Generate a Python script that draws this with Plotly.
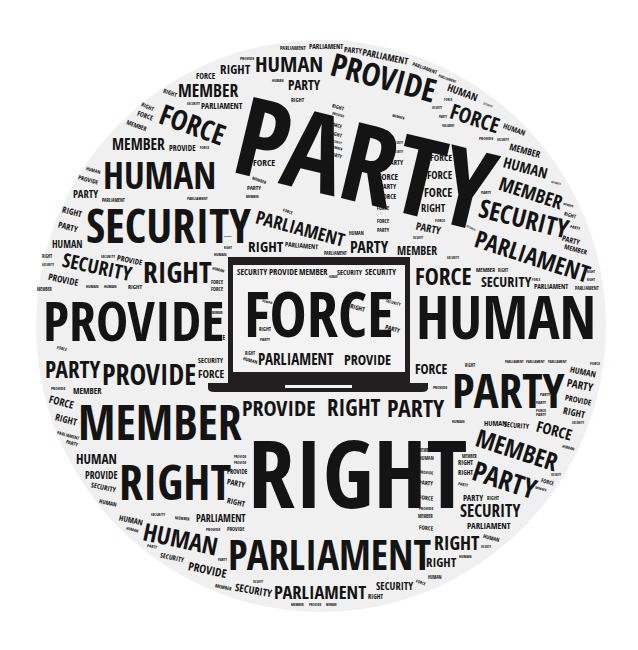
import plotly.graph_objects as go

# word-cloud terms
TERMS = ["PARTY", "RIGHT", "FORCE", "HUMAN", "PROVIDE", "SECURITY", "PARLIAMENT", "MEMBER"]

# placement: term, centre x, centre y (px), text length (px), tilt (deg)
PLACES = [
    # top rim
    ("PARLIAMENT", 293, 48, 25, 0), ("PARLIAMENT", 326, 47, 33, 0), ("PARTY", 353, 50, 18, 5),
    ("PARLIAMENT", 385, 57, 45, 12), ("PARLIAMENT", 425, 68, 25, 20), ("PARLIAMENT", 447, 79, 18, 20),
    ("PROVIDE", 247, 58, 14, 0), ("HUMAN", 289, 64, 65, 0), ("RIGHT", 235, 70, 30, 0),
    ("FORCE", 206, 76, 19, 0), ("HUMAN", 278, 81, 11, 0), ("PARTY", 304, 86, 32, 0),
    ("RIGHT", 298, 100, 13, 0), ("RIGHT", 170, 93, 14, 20), ("MEMBER", 208, 91, 57, 0),
    ("SECURITY", 193, 104, 13, 0), ("PARLIAMENT", 222, 106, 40, 0), ("RIGHT", 148, 107, 13, 25),
    ("FORCE", 145, 116, 16, 20), ("MEMBER", 137, 126, 20, 20), ("FORCE", 193, 125, 67, 20),
    ("MEMBER", 138, 145, 50, 0), ("PROVIDE", 182, 148, 26, 0), ("FORCE", 204, 148, 9, 0),
    ("HUMAN", 159, 176, 108, 0), ("HUMAN", 93, 170, 14, 15), ("PROVIDE", 88, 180, 20, 15),
    ("PARTY", 85, 194, 25, 0), ("PARLIAMENT", 113, 200, 22, 0), ("PARLIAMENT", 197, 199, 20, 0),
    ("SECURITY", 168, 227, 164, 0), ("RIGHT", 72, 212, 20, 15), ("PARTY", 68, 227, 20, 15),
    ("HUMAN", 67, 244, 29, 0), ("SECURITY", 97, 267, 70, 12), ("SECURITY", 108, 257, 14, 0),
    ("PROVIDE", 130, 260, 25, 12), ("RIGHT", 177, 273, 68, 0), ("HUMAN", 220, 255, 12, 0),
    ("HUMAN", 218, 270, 12, 15), ("FORCE", 217, 282, 12, 0), ("FORCE", 217, 289, 12, 0),
    ("RIGHT", 47, 256, 10, 0), ("SECURITY", 48, 265, 12, 0), ("PROVIDE", 63, 280, 30, 12),
    ("HUMAN", 92, 287, 12, 0), ("HUMAN", 110, 287, 12, 0), ("RIGHT", 135, 287, 14, 0),
    ("MEMBER", 45, 289, 14, 0),
    # left middle
    ("PROVIDE", 133, 322, 177, 0), ("FORCE", 62, 348, 10, 15), ("FORCE", 217, 338, 15, 0),
    ("MEMBER", 217, 313, 10, 0), ("PARTY", 72, 370, 55, 0), ("PROVIDE", 149, 375, 92, 0),
    ("SECURITY", 211, 360, 25, 0), ("FORCE", 211, 374, 26, 0), ("PROVIDE", 58, 388, 14, 0),
    ("MEMBER", 87, 391, 27, 0), ("FORCE", 62, 402, 25, 15), ("MEMBER", 160, 423, 155, 0),
    ("RIGHT", 66, 420, 22, 15), ("PARLIAMENT", 68, 435, 22, 15), ("PARTY", 72, 443, 12, 15),
    ("HUMAN", 96, 460, 39, 0), ("PROVIDE", 101, 476, 32, 0), ("SECURITY", 104, 487, 25, 12),
    ("HUMAN", 108, 503, 17, 12), ("RIGHT", 175, 483, 111, 0), ("PROVIDE", 240, 457, 12, 0),
    ("PROVIDE", 240, 463, 12, 0), ("PROVIDE", 237, 472, 20, 0), ("PARTY", 236, 483, 18, 12),
    ("RIGHT", 236, 502, 18, 12), ("PROVIDE", 279, 408, 72, 0), ("RIGHT", 357, 475, 217, 0),
    # bottom
    ("HUMAN", 131, 520, 23, 12), ("HUMAN", 132, 530, 12, 15), ("SECURITY", 158, 515, 14, 0),
    ("MEMBER", 183, 518, 14, 5), ("PARLIAMENT", 221, 518, 48, 0), ("PROVIDE", 213, 529, 14, 0),
    ("PROVIDE", 235, 529, 17, 0), ("HUMAN", 181, 539, 72, 12), ("PARTY", 152, 547, 10, 12),
    ("SECURITY", 172, 558, 24, 12), ("PROVIDE", 207, 570, 38, 12), ("PARTY", 222, 560, 9, 0),
    ("PARLIAMENT", 330, 556, 196, 0), ("MEMBER", 223, 587, 16, 12), ("SECURITY", 253, 590, 37, 10),
    ("SECURITY", 258, 582, 10, 0), ("PARLIAMENT", 320, 592, 89, 0), ("MEMBER", 297, 605, 12, 0),
    ("PROVIDE", 315, 605, 12, 0), ("MEMBER", 331, 605, 10, 0), ("SECURITY", 394, 586, 37, 0),
    ("RIGHT", 375, 597, 15, 0), ("FORCE", 421, 582, 10, 20), ("RIGHT", 441, 563, 30, 0),
    ("HUMAN", 435, 577, 13, 0), ("RIGHT", 457, 543, 45, 0), ("HUMAN", 491, 538, 16, 15),
    ("SECURITY", 486, 547, 10, 0), ("HUMAN", 465, 557, 12, 0), ("PARLIAMENT", 489, 526, 42, 0),
    ("SECURITY", 490, 511, 60, 0), ("PARTY", 473, 498, 20, 0), ("RIGHT", 493, 498, 12, 0),
    # right lower
    ("MEMBER", 426, 450, 14, 0), ("HUMAN", 426, 458, 14, 0), ("PROVIDE", 426, 472, 14, 5),
    ("PARTY", 426, 483, 14, 5), ("FORCE", 426, 498, 14, 5), ("PROVIDE", 426, 508, 14, 0),
    ("MEMBER", 426, 516, 14, 0), ("FORCE", 426, 528, 14, 5), ("PARTY", 458, 447, 14, 0),
    ("MEMBER", 470, 456, 14, 0), ("RIGHT", 465, 463, 15, 0), ("RIGHT", 465, 473, 15, 0),
    ("PARTY", 463, 485, 10, 12), ("MEMBER", 517, 450, 80, 18), ("PARTY", 505, 481, 65, 18),
    ("SECURITY", 556, 475, 10, 0), ("FORCE", 548, 482, 13, 15), ("MEMBER", 541, 489, 11, 15),
    ("HUMAN", 495, 423, 22, 0), ("SECURITY", 517, 425, 25, 5), ("FORCE", 554, 431, 36, 15),
    ("HUMAN", 568, 448, 12, 15), ("HUMAN", 458, 422, 12, 0), ("FORCE", 431, 370, 32, 0),
    ("PROVIDE", 440, 387, 14, 0), ("RIGHT", 354, 408, 53, 0), ("PARTY", 416, 408, 57, 0),
    ("PARTY", 509, 392, 112, 0), ("PARLIAMENT", 514, 362, 18, 0), ("PARLIAMENT", 535, 362, 18, 0),
    ("PARLIAMENT", 557, 362, 18, 0), ("RIGHT", 470, 365, 10, 0), ("FORCE", 595, 363, 10, 0),
    ("HUMAN", 583, 372, 25, 12), ("PARTY", 580, 385, 26, 12), ("PROVIDE", 578, 400, 26, 12),
    ("RIGHT", 574, 413, 22, 12), ("SECURITY", 578, 423, 12, 0), ("PARTY", 545, 395, 10, 0),
    ("PARTY", 541, 403, 10, 0), ("FORCE", 541, 410, 10, 0), ("PARTY", 541, 415, 10, 0),
    # right middle
    ("HUMAN", 506, 318, 172, 0), ("FORCE", 443, 277, 56, 0), ("SECURITY", 453, 258, 12, 0),
    ("MEMBER", 485, 270, 18, 0), ("RIGHT", 503, 270, 10, 0), ("SECURITY", 506, 282, 50, 0),
    ("FORCE", 536, 280, 8, 0), ("PARLIAMENT", 551, 287, 33, 0), ("PARLIAMENT", 587, 288, 23, 0),
    ("RIGHT", 591, 272, 8, 0), ("RIGHT", 591, 280, 8, 0), ("SECURITY", 471, 228, 10, 30),
    ("PARLIAMENT", 532, 257, 115, 18), ("SECURITY", 524, 220, 91, 14), ("MEMBER", 531, 194, 62, 18),
    ("HUMAN", 525, 168, 43, 15), ("MEMBER", 525, 151, 30, 15), ("HUMAN", 514, 129, 22, 20),
    ("PROVIDE", 486, 138, 14, 0), ("SECURITY", 503, 140, 12, 0), ("SECURITY", 556, 183, 10, 15),
    ("MEMBER", 568, 205, 10, 15), ("RIGHT", 570, 215, 12, 15), ("PARTY", 575, 228, 10, 15),
    ("PARTY", 571, 240, 18, 15), ("MEMBER", 576, 250, 22, 15), ("PARTY", 486, 193, 10, 0),
    # top right
    ("PROVIDE", 383, 78, 105, 15), ("HUMAN", 462, 92, 30, 20), ("SECURITY", 488, 105, 10, 20),
    ("RIGHT", 338, 107, 12, 15), ("PROVIDE", 338, 115, 12, 15), ("FORCE", 336, 125, 12, 15),
    ("RIGHT", 336, 134, 12, 15), ("SECURITY", 336, 142, 12, 15), ("MEMBER", 336, 148, 12, 15),
    ("PARTY", 336, 155, 12, 15), ("MEMBER", 398, 117, 12, 15), ("SECURITY", 437, 108, 10, 0),
    ("FORCE", 448, 100, 8, 0), ("PARTY", 443, 117, 8, 0), ("PARLIAMENT", 448, 126, 12, 0),
    ("FORCE", 475, 118, 50, 18), ("FORCE", 441, 158, 22, 0), ("FORCE", 440, 175, 25, 0),
    ("FORCE", 438, 192, 28, 0), ("RIGHT", 433, 208, 24, 0), ("PARTY", 428, 228, 25, 12),
    ("SECURITY", 418, 238, 10, 0), ("FORCE", 440, 220, 10, 0), ("PARTY", 395, 163, 16, 0),
    ("FORCE", 388, 177, 20, 0), ("PARTY", 388, 187, 16, 0), ("FORCE", 388, 197, 16, 0),
    ("FORCE", 383, 208, 12, 0), ("FORCE", 383, 221, 12, 0), ("PARTY", 383, 230, 12, 0),
    ("SECURITY", 398, 143, 10, 0), ("SECURITY", 398, 152, 10, 0), ("HUMAN", 356, 233, 14, 0),
    ("PARTY", 369, 248, 38, 0), ("MEMBER", 417, 250, 38, 0), ("PARLIAMENT", 335, 253, 22, 0),
    ("PARLIAMENT", 300, 228, 88, 15), ("FORCE", 288, 211, 10, 20), ("RIGHT", 266, 247, 35, 0),
    ("PARLIAMENT", 301, 246, 32, 5), ("FORCE", 264, 163, 22, 0), ("MEMBER", 260, 180, 14, 20),
    ("PARTY", 254, 188, 14, 0), ("MEMBER", 252, 197, 12, 0), ("SECURITY", 228, 237, 8, 0),
    ("RIGHT", 228, 248, 8, 0),
    ("PARTY", 366, 165, 260, 13.5),
    # laptop screen
    ("SECURITY", 252, 272, 30, 0), ("PROVIDE", 283, 272, 28, 0), ("MEMBER", 313, 272, 27, 0),
    ("HUMAN", 333, 277, 8, 0), ("SECURITY", 350, 272, 25, 0), ("SECURITY", 381, 272, 31, 0),
    ("FORCE", 319, 315, 148, 0), ("HUMAN", 267, 302, 10, 15), ("RIGHT", 265, 329, 12, 0),
    ("PARTY", 265, 340, 10, 0), ("RIGHT", 250, 353, 10, 0), ("HUMAN", 250, 360, 14, 15),
    ("RIGHT", 357, 308, 15, 15), ("SECURITY", 393, 302, 15, 15), ("PARTY", 392, 329, 15, 15),
    ("PARLIAMENT", 296, 360, 73, 0), ("PROVIDE", 367, 360, 46, 0),
]

# rough advance widths (em) of bold caps, scaled to the condensed face
ADV = {"A": .686, "B": .693, "C": .640, "D": .742, "E": .569, "F": .547, "G": .738,
       "H": .781, "I": .370, "L": .573, "M": .961, "N": .811, "O": .794, "P": .661,
       "R": .691, "S": .585, "T": .597, "U": .775, "V": .650, "Y": .624}
NARROW = 0.73
FONT = "Open Sans Condensed, Roboto Condensed, DejaVu Sans Condensed, sans-serif"
INK = "#141414"

W, H = 638, 650
PAD = 8  # page body margin in the viewer

fig = go.Figure()

# grey disc behind the words
fig.add_shape(type="circle", x0=36, y0=40, x1=606, y1=612,
              fillcolor="#f0f0f0", line=dict(width=0), layer="below")

# laptop outline
fig.add_shape(type="rect", x0=228, y0=257, x1=410, y1=383,
              fillcolor="#231f20", line=dict(width=0), layer="below")
fig.add_shape(type="rect", x0=233, y0=265, x1=405, y1=372,
              fillcolor="#f3f3f3", line=dict(width=0), layer="below")
fig.add_shape(type="path", path="M 208 383 L 428 383 L 428 388 Q 428 392 422 392 L 214 392 Q 208 392 208 388 Z",
              fillcolor="#231f20", line=dict(width=0), layer="below")
fig.add_shape(type="rect", x0=285, y0=385, x1=352, y1=388,
              fillcolor="#f3f3f3", line=dict(width=0), layer="below")

for term, x, y, length, angle in PLACES:
    assert term in TERMS
    em = sum(ADV[c] for c in term) * NARROW
    size = length / em
    fig.add_annotation(
        x=x, y=y, text=f"<span style='font-stretch:condensed'>{term}</span>", showarrow=False,
        xanchor="center", yanchor="middle", textangle=angle, yshift=0.04 * size,
        font=dict(family=FONT, size=size, color=INK, weight=800),
    )

fig.update_xaxes(range=[PAD, W + PAD], visible=False, fixedrange=True)
fig.update_yaxes(range=[H + PAD, PAD], visible=False, fixedrange=True)
fig.update_layout(
    width=W, height=H,
    margin=dict(l=0, r=0, t=0, b=0),
    paper_bgcolor="white", plot_bgcolor="white",
    showlegend=False,
)

fig.write_html("out.html")
